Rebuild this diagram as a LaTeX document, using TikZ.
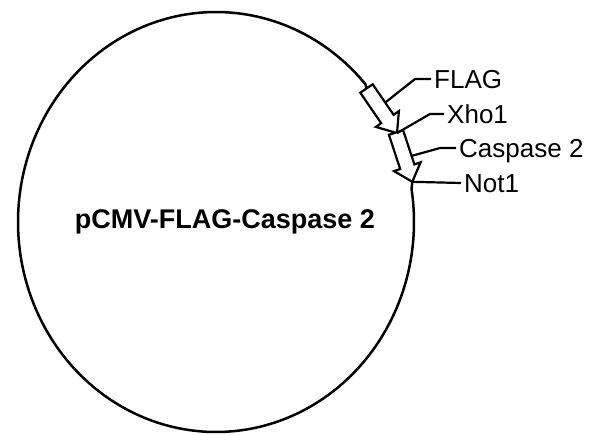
\documentclass[tikz,border=0pt]{standalone}
\usepackage{fontspec}
\setmainfont{Liberation Sans}
\begin{document}
\begin{tikzpicture}[x=1pt,y=-1pt,line join=miter,
  ring/.style={line width=2.5pt},
  feat/.style={line width=2.2pt,fill=white},
  leader/.style={line width=2.2pt},
  lab/.style={font=\fontsize{26}{30}\selectfont,inner sep=0pt,anchor=west,text height=18.6pt,text depth=0pt}]
\useasboundingbox (0,0) rectangle (600,434);
\fill[white] (0,0) rectangle (600,434);
% FLAG arrow
\coordinate (fT) at (366.5,88.5);
\coordinate (ftip) at (397.0,133.1);
% Caspase arrow
\coordinate (cT) at (396,132.5);
\coordinate (ctip) at (412.3,181.8);
% backbone
\draw[ring] (fT) -- plot[domain=41:369,samples=240] ({216+198*cos(\x)},{222-210*sin(\x)}) -- (ctip);
\draw[feat] (360.3,92.7) -- (372.7,84.3) -- (393.6,114.8) -- (398.9,111.1) -- (ftip) -- (375.9,126.9) -- (381.2,123.2) -- cycle;
\draw[feat] (388.9,134.8) -- (403.1,130.2) -- (414.4,164.4) -- (420.6,162.3) -- (ctip) -- (394.0,171.1) -- (400.2,169.0) -- cycle;
% labels
\node[lab] (flag) at (434,79) {FLAG};
\node[lab] (xho) at (447,114) {Xho1};
\node[lab] (casp) at (459,148) {Caspase 2};
\node[lab] (notI) at (464,183) {Not1};
\coordinate (fl) at (385.2,102.6);
\coordinate (cl) at (411.6,155.9);
\draw[leader] (fl) -- (415,79) -- ([xshift=-3pt]flag.west);
\draw[leader] (ftip) -- (430,114) -- ([xshift=-3pt]xho.west);
\draw[leader] (cl) -- (440,148) -- ([xshift=-3pt]casp.west);
\draw[leader] (ctip) -- ([xshift=-3pt]notI.west);
\node[font=\bfseries\fontsize{27}{32}\selectfont,inner sep=0pt] (title) at (225,221.5) {pCMV-FLAG-Caspase 2};
\end{tikzpicture}
\end{document}
